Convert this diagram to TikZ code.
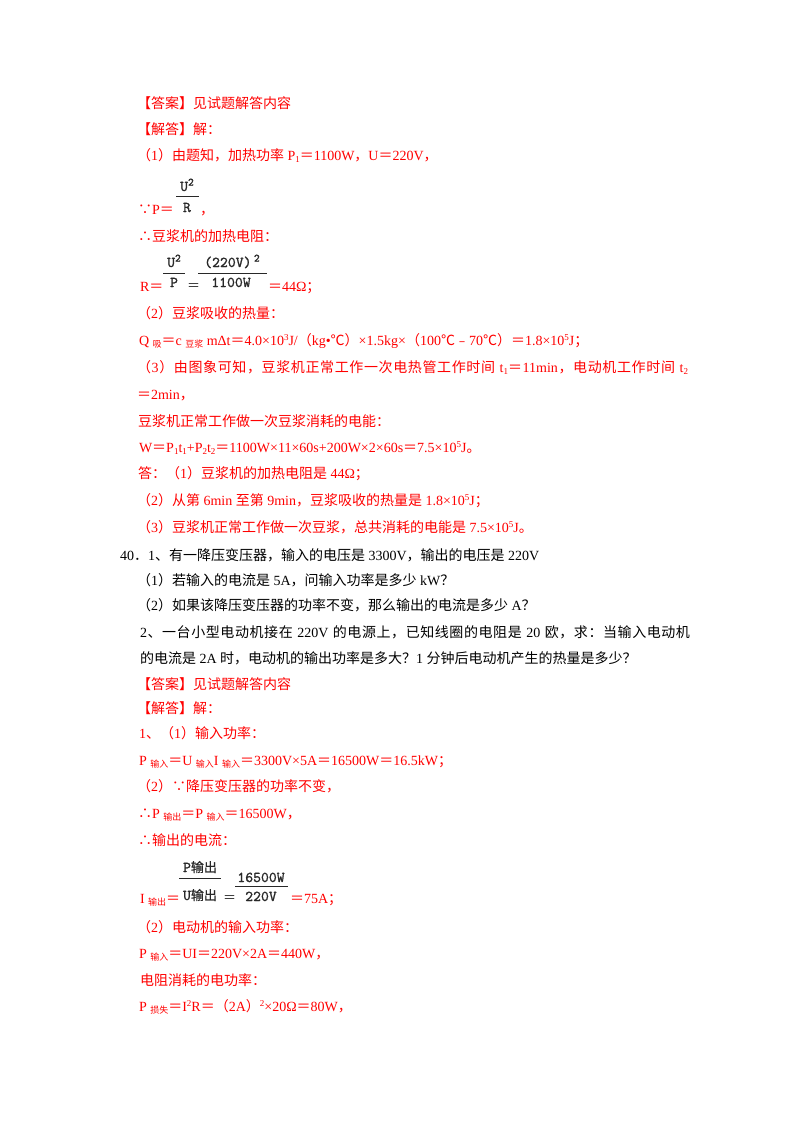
\documentclass[tikz,border=0pt]{standalone}
\usepackage{fontspec}
\usepackage{graphicx}
\setmainfont{Liberation Serif}
\newfontfamily\cjk{Noto Sans CJK SC}
\newfontfamily\cjkb[FakeBold=0.8]{Noto Sans CJK SC}
\newfontfamily\mono[FakeBold=1.2]{lmmono10-regular.otf}
\definecolor{ans}{RGB}{255,0,0}
\definecolor{fgray}{RGB}{40,40,40}
\makeatletter
\chardef\bdry=\e@alloc@intercharclass@top
\XeTeXinterchartokenstate=1
\newXeTeXintercharclass\CJKcls
\count@="3000
\loop \XeTeXcharclass\count@=\CJKcls \ifnum\count@<"9FFF \advance\count@\@ne \repeat
\count@="FF00
\loop \XeTeXcharclass\count@=\CJKcls \ifnum\count@<"FFEF \advance\count@\@ne \repeat
\XeTeXcharclass"2234=\CJKcls
\XeTeXcharclass"2235=\CJKcls
\XeTeXcharclass"2103=\CJKcls
\XeTeXcharclass"FE63=\CJKcls
\makeatother
\newcommand\latinfont{\rmfamily}
\newcommand\cjkfont{\cjk}
\newcommand\cg{\hskip0pt plus 1pt\relax}
\XeTeXinterchartoks \CJKcls \CJKcls = {\cg}
\XeTeXinterchartoks 0 \CJKcls = {\cg\cjkfont}
\XeTeXinterchartoks \bdry \CJKcls = {\cjkfont}
\XeTeXinterchartoks \CJKcls 0 = {\cg\latinfont}
\XeTeXinterchartoks \CJKcls \bdry = {\latinfont}
\XeTeXinterchartoks \bdry 0 = {\latinfont}
\newcommand\lo[1]{\raisebox{-2.5pt}{\fontsize{9}{9}\selectfont #1}}
\newcommand\hi[1]{\raisebox{5pt}{\fontsize{9}{9}\selectfont #1}}
\newcommand\mhi[1]{\raisebox{5.5pt}{\fontsize{11}{11}\selectfont #1}}
\tikzset{
 ln/.style={anchor=base west, inner sep=0pt, outer sep=0pt, font=\fontsize{14}{14}\selectfont},
 rd/.style={ln, text=ans},
 bk/.style={ln, text=black},
 fr/.style={anchor=base, inner sep=0pt, outer sep=0pt, text=fgray, font=\fontsize{15}{15}\selectfont\def\latinfont{\mono}\def\cjkfont{\fontsize{13}{13}\selectfont\cjkb}\mono},
 freq/.style={anchor=base west, inner sep=0pt, outer sep=0pt, text=fgray, font=\fontsize{13}{13}\selectfont\def\cjkfont{\cjk}},
 bar/.style={draw=fgray, line width=0.9pt}
}
\begin{document}
\begin{tikzpicture}[x=1pt,y=-1pt]
\useasboundingbox[fill=white] (0,0) rectangle (800,1132);
% ---- first answer block
\node[rd] (l1) at (137,108) {【答案】见试题解答内容};
\node[rd] (l2) at (137,134) {【解答】解：};
\node[rd] (l3) at (137,160) {（1）由题知，加热功率 P\lo{1}＝1100W，U＝220V，};
\node[rd] (l4) at (138,214) {∵P＝};
\draw[bar] (176,196) -- (199,196);
\node[fr] (f1n) at (187,191) {U\mhi{2}};
\node[fr] (f1d) at (187,212) {R};
\node[rd] (l4b) at (200,214) {，};
\node[rd] (l5) at (138,241) {∴豆浆机的加热电阻：};
\node[rd] (l6) at (140,291) {R＝};
\draw[bar] (163,273) -- (185,273);
\node[fr] (f2n) at (174,267) {U\mhi{2}};
\node[fr] (f2d) at (174,287) {P};
\node[freq] (f2e) at (187,290) {＝};
\draw[bar] (198,273) -- (267,273);
\node[fr] (f3n) at (232,267) {(220V)\,\mhi{2}};
\node[fr] (f3d) at (231,287) {1100W};
\node[rd] (l6b) at (268,291) {＝44Ω；};
\node[rd] (l7) at (137,318) {（2）豆浆吸收的热量：};
\node[rd] (l8) at (139,345) {Q \lo{吸}＝c \lo{豆浆} mΔt＝4.0×10\hi{3}J/（kg•℃）×1.5kg×（100℃﹣70℃）＝1.8×10\hi{5}J；};
\node[rd] (l9) at (137,372) {\makebox[551pt][s]{（3）由图象可知，豆浆机正常工作一次电热管工作时间 t\lo{1}＝11min，电动机工作时间 t\lo{2}}};
\node[rd] (l10) at (137,399) {＝2min，};
\node[rd] (l11) at (138,426) {豆浆机正常工作做一次豆浆消耗的电能：};
\node[rd] (l12) at (139,452) {W＝P\lo{1}t\lo{1}+P\lo{2}t\lo{2}＝1100W×11×60s+200W×2×60s＝7.5×10\hi{5}J。};
\node[rd] (l13) at (138,478) {答：（1）豆浆机的加热电阻是 44Ω；};
\node[rd] (l14) at (137,505) {（2）从第 6min 至第 9min，豆浆吸收的热量是 1.8×10\hi{5}J；};
\node[rd] (l15) at (137,532) {（3）豆浆机正常工作做一次豆浆，总共消耗的电能是 7.5×10\hi{5}J。};
% ---- question 40
\node[bk] (q1) at (120,560) {40．1、有一降压变压器，输入的电压是 3300V，输出的电压是 220V};
\node[bk] (q2) at (137,585) {（1）若输入的电流是 5A，问输入功率是多少 kW？};
\node[bk] (q3) at (137,610) {（2）如果该降压变压器的功率不变，那么输出的电流是多少 A？};
\node[bk] (q4) at (140,637) {\makebox[550pt][s]{2、一台小型电动机接在 220V 的电源上，已知线圈的电阻是 20 欧，求：当输入电动机}};
\node[bk] (q5) at (140,663) {的电流是 2A 时，电动机的输出功率是多大？1 分钟后电动机产生的热量是多少？};
% ---- second answer block
\node[rd] (m1) at (137,689) {【答案】见试题解答内容};
\node[rd] (m2) at (137,713) {【解答】解：};
\node[rd] (m3) at (139,738) {1、（1）输入功率：};
\node[rd] (m4) at (139,765) {P \lo{输入}＝U \lo{输入}I \lo{输入}＝3300V×5A＝16500W＝16.5kW；};
\node[rd] (m5) at (137,791) {（2）∵降压变压器的功率不变，};
\node[rd] (m6) at (138,818) {∴P \lo{输出}＝P \lo{输入}＝16500W，};
\node[rd] (m7) at (138,845) {∴输出的电流：};
\node[rd] (m8) at (140,903) {I \lo{输出}＝};
\draw[bar] (179,878) -- (221,878);
\node[fr] (f4n) at (200,872) {P输出};
\node[fr] (f4d) at (200,900) {U输出};
\node[freq] (f4e) at (223,902) {＝};
\draw[bar] (235,886) -- (288,886);
\node[fr] (f5n) at (261,882) {16500W};
\node[fr] (f5d) at (261,901) {220V};
\node[rd] (m8b) at (290,903) {＝75A；};
\node[rd] (m9) at (137,932) {（2）电动机的输入功率：};
\node[rd] (m10) at (139,958) {P \lo{输入}＝UI＝220V×2A＝440W，};
\node[rd] (m11) at (140,985) {电阻消耗的电功率：};
\node[rd] (m12) at (139,1011) {P \lo{损失}＝I\hi{2}R＝（2A）\hi{2}×20Ω＝80W，};
\end{tikzpicture}
\end{document}
